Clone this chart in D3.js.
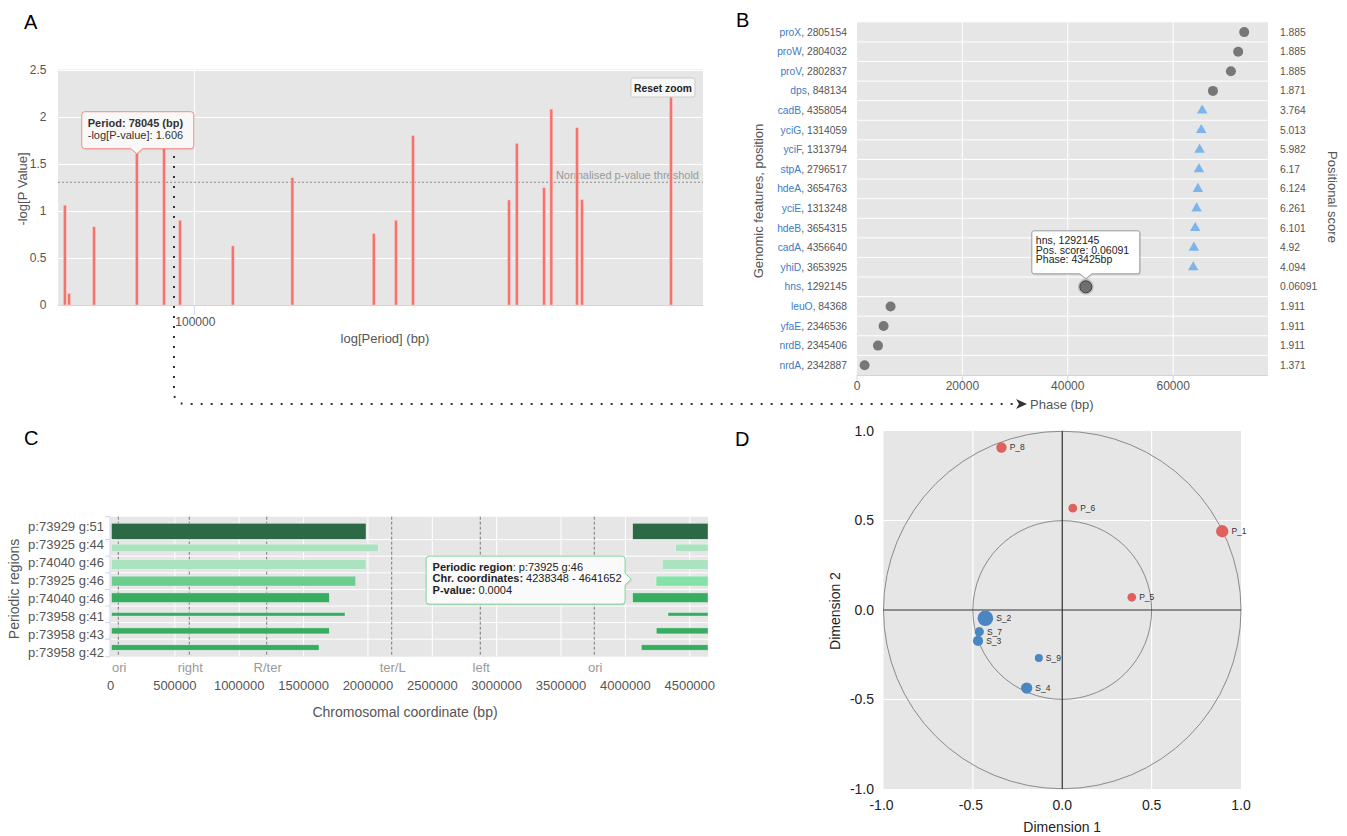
<!DOCTYPE html>
<html><head><meta charset="utf-8">
<script src="https://cdn.jsdelivr.net/npm/d3@7"></script>
<style>
body{margin:0;background:#fff;}
svg{display:block;font-family:"Liberation Sans",Arial,Helvetica,sans-serif;}
</style></head><body>
<svg id="c" width="1347" height="836"></svg>
<script>
// ---------- Panel A data ----------
const periods = [57260, 58330, 64940, 78045, 87780, 94040, 117960, 152500, 216400, 238200, 256300, 387500, 400600, 450500, 464900, 519200, 530500, 778000];
const periodNegLogP = [1.06, 0.124, 0.83, 1.606, 1.72, 0.90, 0.627, 1.352, 0.76, 0.90, 1.80, 1.115, 1.717, 1.246, 2.08, 1.883, 1.12, 2.3];
const pThreshold = 1.303;
const aYTicks = [0, 0.5, 1, 1.5, 2, 2.5];
const aXTicks = [100000];
const aHover = {period: 78045, value: 1.606};

// ---------- Panel B data ----------
const genes = ["proX","proW","proV","dps","cadB","yciG","yciF","stpA","hdeA","yciE","hdeB","cadA","yhiD","hns","leuO","yfaE","nrdB","nrdA"];
const genePositions = [2805154, 2804032, 2802837, 848134, 4358054, 1314059, 1313794, 2796517, 3654763, 1313248, 3654315, 4356640, 3653925, 1292145, 84368, 2346536, 2345406, 2342887];
const positionalScores = ["1.885","1.885","1.885","1.871","3.764","5.013","5.982","6.17","6.124","6.261","6.101","4.92","4.094","0.06091","1.911","1.911","1.911","1.371"];
const phases = [73480, 72340, 70960, 67550, 65520, 65330, 65020, 64900, 64700, 64450, 64190, 63940, 63810, 43425, 6370, 5040, 3980, 1440];
const markerKinds = ["circle","circle","circle","circle","triangle","triangle","triangle","triangle","triangle","triangle","triangle","triangle","triangle","circle","circle","circle","circle","circle"];
const bXTicks = [0, 20000, 40000, 60000];
const bHoverIndex = 13;

// ---------- Panel C data ----------
const genomeLength = 4641652;
const regionLabels = ["p:73929 g:51","p:73925 g:44","p:74040 g:46","p:73925 g:46","p:74040 g:46","p:73958 g:41","p:73958 g:43","p:73958 g:42"];
const regionStart = [4056600, 4390600, 4286500, 4238348, 4056600, 4330800, 4239900, 4123400];
const regionEnd = [1984800, 2080300, 1984800, 1904800, 1699700, 1821700, 1699700, 1619700];
const regionScore = [1.0, 0.47, 0.62, 0.62, 0.6, 0.22, 0.375, 0.34];
const regionShade = [0, 3, 3, 2, 1, 1, 1, 1];
const markerNames = ["ori","right","R/ter","ter/L","left","ori"];
const markerPositions = [60600, 612100, 1213400, 2184400, 2872600, 3758300];
const cXTicks = [0, 500000, 1000000, 1500000, 2000000, 2500000, 3000000, 3500000, 4000000, 4500000];
const cHoverIndex = 3;
const cHoverPval = "0.0004";

// ---------- Panel D data ----------
const varNames = ["P_8","P_6","P_1","P_5","S_2","S_7","S_3","S_9","S_4"];
const dim1 = [-0.34, 0.059, 0.895, 0.389, -0.43, -0.464, -0.471, -0.131, -0.199];
const dim2 = [0.908, 0.569, 0.44, 0.071, -0.046, -0.121, -0.173, -0.268, -0.436];
const varContrib = [27, 19, 38, 19, 61, 21, 26, 16, 32];
const varGroup = ["P","P","P","P","S","S","S","S","S"];
const dTicks = [-1, -0.5, 0, 0.5, 1];

// ---------- drawing ----------
const svg = d3.select("#c");
const BG = "#e6e6e6", AXC = "#ccd6eb", TXT = "#555";

[["A",24,29],["B",736,27],["C",24,445],["D",735,446]].forEach(([t,x,y]) =>
  svg.append("text").attr("x",x).attr("y",y).attr("font-size",20).attr("fill","#000").text(t));

// ===== Panel A =====
const gA = svg.append("g");
const xA = d3.scaleLog().domain([55600, 893000]).range([58, 703]);
const yA = d3.scaleLinear().domain([0, 2.5]).range([305, 69.5]);
gA.append("rect").attr("x",58).attr("y",yA(2.5)).attr("width",645).attr("height",yA(0)-yA(2.5)).attr("fill",BG);
gA.selectAll(".gy").data(aYTicks.slice(1)).join("line").attr("x1",58).attr("x2",703)
  .attr("y1",d=>Math.round(yA(d))+0.5).attr("y2",d=>Math.round(yA(d))+0.5).attr("stroke","#fff");
gA.selectAll(".gx").data(aXTicks).join("line").attr("x1",d=>xA(d)).attr("x2",d=>xA(d))
  .attr("y1",yA(2.5)).attr("y2",yA(0)).attr("stroke","#fff");
gA.append("line").attr("x1",58).attr("x2",703).attr("y1",yA(pThreshold)).attr("y2",yA(pThreshold))
  .attr("stroke","#8c8c8c").attr("stroke-dasharray","2,2");
gA.append("text").attr("x",699).attr("y",yA(pThreshold)-3).attr("text-anchor","end").attr("font-size",11)
  .attr("fill","#999").text("Normalised p-value threshold");
gA.selectAll(".bar").data(periods).join("rect")
  .attr("x",(d)=>xA(d)-1.5).attr("width",3)
  .attr("y",(d,i)=>yA(periodNegLogP[i])).attr("height",(d,i)=>yA(0)-yA(periodNegLogP[i]))
  .attr("fill","#f4736d").attr("stroke","#fcd3cf").attr("stroke-width",0.5);
gA.append("line").attr("x1",58).attr("x2",703).attr("y1",305.5).attr("y2",305.5).attr("stroke",AXC);
aXTicks.forEach(t=>{
  gA.append("line").attr("x1",xA(t)).attr("x2",xA(t)).attr("y1",305).attr("y2",315).attr("stroke",AXC);
  gA.append("text").attr("x",xA(t)+1).attr("y",326).attr("text-anchor","middle").attr("font-size",12).attr("fill",TXT).text(t);
});
gA.selectAll(".yl").data(aYTicks).join("text").attr("x",46.5).attr("y",d=>yA(d)).attr("dy","0.35em")
  .attr("text-anchor","end").attr("font-size",12).attr("fill",TXT).text(d=>d);
gA.append("text").attr("transform","translate(22,189) rotate(-90)").attr("text-anchor","middle").attr("dy","0.35em")
  .attr("font-size",13).attr("fill",TXT).text("-log[P Value]");
gA.append("text").attr("x",385).attr("y",343).attr("text-anchor","middle").attr("font-size",13).attr("fill",TXT).text("log[Period] (bp)");

// Reset zoom button
gA.append("rect").attr("x",631).attr("y",78).attr("width",64).attr("height",19).attr("rx",2)
  .attr("fill","#f7f7f7").attr("stroke","#cccccc");
gA.append("text").attr("x",663).attr("y",91.5).attr("text-anchor","middle").attr("font-size",10.3)
  .attr("font-weight","bold").attr("fill","#222").text("Reset zoom");

// dotted connector A -> B
const tipAx = xA(aHover.period), tipAy = yA(aHover.value);
svg.append("path").attr("d","M174,156 L174,392 Q174,404 186,404 L1013,404")
  .attr("fill","none").attr("stroke","#333").attr("stroke-width",2).attr("stroke-dasharray","2,8");
svg.append("path").attr("d","M1016,399 L1027,404 L1016,409 L1019,404 Z").attr("fill","#333");

// tooltip A
function calloutDown(x0,y0,x1,y1,tx,ty,r){
  return `M${x0+r},${y0} H${x1-r} Q${x1},${y0} ${x1},${y0+r} V${y1-r} Q${x1},${y1} ${x1-r},${y1} H${tx+6} L${tx},${ty} L${tx-6},${y1} H${x0+r} Q${x0},${y1} ${x0},${y1-r} V${y0+r} Q${x0},${y0} ${x0+r},${y0} Z`;
}
function calloutRight(x0,y0,x1,y1,tx,ty,r){
  return `M${x0+r},${y0} H${x1-r} Q${x1},${y0} ${x1},${y0+r} V${ty-6} L${tx},${ty} L${x1},${ty+6} V${y1-r} Q${x1},${y1} ${x1-r},${y1} H${x0+r} Q${x0},${y1} ${x0},${y1-r} V${y0+r} Q${x0},${y0} ${x0+r},${y0} Z`;
}
const tA = svg.append("g");
tA.append("path").attr("d",calloutDown(tipAx-55,tipAy-42,tipAx+57,tipAy-5,tipAx,tipAy,3))
  .attr("fill","rgba(0,0,0,0.06)").attr("transform","translate(1,1.5)");
tA.append("path").attr("d",calloutDown(tipAx-55,tipAy-42,tipAx+57,tipAy-5,tipAx,tipAy,3))
  .attr("fill","#f8f8f8").attr("stroke","#f28b84");
tA.append("text").attr("x",tipAx-49).attr("y",tipAy-27).attr("font-size",11).attr("font-weight","bold").attr("fill","#333")
  .text(`Period: ${aHover.period} (bp)`);
tA.append("text").attr("x",tipAx-49).attr("y",tipAy-14.5).attr("font-size",11).attr("fill","#333")
  .text(`-log[P-value]: ${aHover.value}`);

// ===== Panel B =====
const gB = svg.append("g");
const xB = d3.scaleLinear().domain([0, 78000]).range([857, 1268]);
const yB = d3.scaleBand().domain(d3.range(genes.length)).range([22.3, 375]);
gB.append("rect").attr("x",857).attr("y",22.3).attr("width",411).attr("height",375-22.3).attr("fill",BG);
gB.selectAll(".hb").data(d3.range(1,genes.length)).join("line").attr("x1",857).attr("x2",1268)
  .attr("y1",d=>yB(d)).attr("y2",d=>yB(d)).attr("stroke","#fff");
gB.selectAll(".vb").data(bXTicks.slice(1)).join("line").attr("x1",d=>xB(d)).attr("x2",d=>xB(d))
  .attr("y1",22.3).attr("y2",375).attr("stroke","#fff");
gB.append("line").attr("x1",857).attr("x2",1268).attr("y1",375.5).attr("y2",375.5).attr("stroke",AXC);
bXTicks.forEach(t=>{
  gB.append("line").attr("x1",xB(t)).attr("x2",xB(t)).attr("y1",375).attr("y2",382).attr("stroke",AXC);
  gB.append("text").attr("x",xB(t)).attr("y",390).attr("text-anchor","middle").attr("font-size",12).attr("fill",TXT).text(t);
});
const lblB = gB.selectAll(".lb").data(genes).join("text").attr("x",847).attr("y",(d,i)=>yB(i)+yB.bandwidth()/2)
  .attr("dy","0.35em").attr("text-anchor","end").attr("font-size",10.3);
lblB.append("tspan").attr("fill","#3d7cc7").text(d=>d);
lblB.append("tspan").attr("fill",TXT).text((d,i)=>", "+genePositions[i]);
gB.selectAll(".rb").data(positionalScores).join("text").attr("x",1280).attr("y",(d,i)=>yB(i)+yB.bandwidth()/2)
  .attr("dy","0.35em").attr("font-size",10.3).attr("fill",TXT).text(d=>d);
gB.append("text").attr("transform","translate(758,201) rotate(-90)").attr("text-anchor","middle").attr("dy","0.35em")
  .attr("font-size",13).attr("fill",TXT).text("Genomic features, position");
gB.append("text").attr("transform","translate(1333,197) rotate(90)").attr("text-anchor","middle").attr("dy","0.35em")
  .attr("font-size",13).attr("fill",TXT).text("Positional score");
gB.append("text").attr("x",1030).attr("y",409).attr("font-size",13).attr("fill",TXT).text("Phase (bp)");
const tri = d3.symbol().type(d3.symbolTriangle).size(48);
phases.forEach((p,i)=>{
  const cx = xB(p), cy = yB(i)+yB.bandwidth()/2;
  if (markerKinds[i]==="triangle") {
    gB.append("path").attr("d",tri).attr("transform",`translate(${cx},${cy})`).attr("fill","#7cb5ec");
  } else if (i===bHoverIndex) {
    gB.append("circle").attr("cx",cx).attr("cy",cy).attr("r",8).attr("fill","rgba(110,110,110,0.3)");
    gB.append("circle").attr("cx",cx).attr("cy",cy).attr("r",6).attr("fill","#6f6f6f").attr("stroke","#3f3f3f").attr("stroke-width",1);
  } else {
    gB.append("circle").attr("cx",cx).attr("cy",cy).attr("r",5).attr("fill","#777");
  }
});
// tooltip B
{
  const tx = xB(phases[bHoverIndex]), ty = yB(bHoverIndex)+yB.bandwidth()/2 - 8;
  const g = svg.append("g");
  g.append("path").attr("d",calloutDown(tx-54,ty-48,tx+54,ty-5,tx,ty,2)).attr("fill","rgba(0,0,0,0.08)").attr("transform","translate(1,1.5)");
  g.append("path").attr("d",calloutDown(tx-54,ty-48,tx+54,ty-5,tx,ty,2)).attr("fill","#fff").attr("stroke","#9a9a9a");
  const lines = [`${genes[bHoverIndex]}, ${genePositions[bHoverIndex]}`, `Pos. score: ${positionalScores[bHoverIndex]}`, `Phase: ${phases[bHoverIndex]}bp`];
  lines.forEach((t,k)=> g.append("text").attr("x",tx-50).attr("y",ty-35+k*9.7).attr("font-size",10.5).attr("fill","#222").text(t));
}

// ===== Panel C =====
const gC = svg.append("g");
const cTop = 516.7, cBot = 656.7;
const xC = d3.scaleLinear().domain([0, genomeLength]).range([110.5, 708]);
const yC = d3.scaleBand().domain(d3.range(regionLabels.length)).range([523, 655.8]);
const yCl = d3.scalePoint().domain(d3.range(regionLabels.length)).range([526, 652]);
const thick = d3.scaleLinear().domain([0,1]).range([0,16]);
const shades = ["#2b6a45","#38ad61","#6dcd8f","#abe3c1"];
gC.append("rect").attr("x",110.5).attr("y",cTop).attr("width",597.5).attr("height",cBot-cTop).attr("fill",BG);
gC.selectAll(".vc").data(cXTicks.slice(1)).join("line").attr("x1",d=>xC(d)).attr("x2",d=>xC(d))
  .attr("y1",cTop).attr("y2",cBot).attr("stroke","#fff");
gC.selectAll(".hc").data(d3.range(1,regionLabels.length)).join("line").attr("x1",110.5).attr("x2",708)
  .attr("y1",d=>yC(d)).attr("y2",d=>yC(d)).attr("stroke","#fff");
gC.selectAll(".mk").data(markerPositions).join("line").attr("x1",d=>xC(d)).attr("x2",d=>xC(d))
  .attr("y1",cTop).attr("y2",cBot).attr("stroke","#7a7a7a").attr("stroke-dasharray","3,2");
regionLabels.forEach((r,i)=>{
  const h = thick(regionScore[i]), cy = yC(i)+yC.bandwidth()/2;
  const fill = shades[regionShade[i]];
  gC.append("rect").attr("x",xC(0)+1).attr("width",xC(regionEnd[i])-xC(0)-1).attr("y",cy-h/2).attr("height",h)
    .attr("fill",fill).attr("stroke","rgba(255,255,255,0.6)").attr("stroke-width",0.6);
  gC.append("rect").attr("x",xC(regionStart[i])).attr("width",xC(genomeLength)-xC(regionStart[i])).attr("y",cy-h/2).attr("height",h)
    .attr("fill", i===cHoverIndex ? "#84e2a6" : fill).attr("stroke","rgba(255,255,255,0.6)").attr("stroke-width",0.6);
});
gC.append("line").attr("x1",110).attr("x2",110).attr("y1",cTop).attr("y2",cBot).attr("stroke",AXC);
gC.selectAll(".tc").data(d3.range(0,regionLabels.length+1)).join("line").attr("x1",105).attr("x2",110)
  .attr("y1",d=> d===0 ? cTop : (d===regionLabels.length ? cBot : yC(d))).attr("y2",d=> d===0 ? cTop : (d===regionLabels.length ? cBot : yC(d))).attr("stroke",AXC);
gC.selectAll(".lc").data(regionLabels).join("text").attr("x",104).attr("y",(d,i)=>yCl(i)).attr("dy","0.35em")
  .attr("text-anchor","end").attr("font-size",13).attr("fill",TXT).text(d=>d);
gC.selectAll(".mn").data(markerNames).join("text").attr("x",(d,i)=>xC(markerPositions[i])+1).attr("y",672)
  .attr("text-anchor","middle").attr("font-size",13).attr("fill","#999").text(d=>d);
gC.selectAll(".xc").data(cXTicks).join("text").attr("x",d=>xC(d)).attr("y",689.5)
  .attr("text-anchor","middle").attr("font-size",13).attr("fill",TXT).text(d=>d);
gC.append("text").attr("transform","translate(14,589) rotate(-90)").attr("text-anchor","middle").attr("dy","0.35em")
  .attr("font-size",14).attr("fill",TXT).text("Periodic regions");
gC.append("text").attr("x",405).attr("y",717).attr("text-anchor","middle").attr("font-size",14).attr("fill",TXT).text("Chromosomal coordinate (bp)");
// tooltip C
{
  const tx = xC(regionStart[cHoverIndex]) - 25, ty = yC(cHoverIndex)+yC.bandwidth()/2 - 2;
  const g = svg.append("g");
  g.append("path").attr("d",calloutRight(tx-205,ty-23,tx-6,ty+25,tx,ty,3)).attr("fill","rgba(0,0,0,0.07)").attr("transform","translate(1,1.5)");
  g.append("path").attr("d",calloutRight(tx-205,ty-23,tx-6,ty+25,tx,ty,3)).attr("fill","#fafafa").attr("stroke","#7fd39c");
  const rows = [["Periodic region",": "+regionLabels[cHoverIndex]],["Chr. coordinates:"," "+regionStart[cHoverIndex]+" - "+genomeLength],["P-value:"," "+cHoverPval]];
  rows.forEach((r,k)=>{
    const t = g.append("text").attr("x",tx-198.5).attr("y",ty-8+k*11.3).attr("font-size",11).attr("fill","#222");
    t.append("tspan").attr("font-weight","bold").text(r[0]);
    t.append("tspan").text(r[1]);
  });
}

// ===== Panel D =====
const gD = svg.append("g");
const xD = d3.scaleLinear().domain([-1,1]).range([883.5,1241]);
const yD = d3.scaleLinear().domain([-1,1]).range([789,431]);
const rD = d3.scaleSqrt().domain([0,61]).range([0,7.8]);
gD.append("rect").attr("x",xD(-1)).attr("y",yD(1)).attr("width",xD(1)-xD(-1)).attr("height",yD(-1)-yD(1)).attr("fill",BG);
[-0.5,0.5].forEach(v=>{
  gD.append("line").attr("x1",xD(v)).attr("x2",xD(v)).attr("y1",yD(1)).attr("y2",yD(-1)).attr("stroke","#fff").attr("stroke-width",1.2);
  gD.append("line").attr("y1",yD(v)).attr("y2",yD(v)).attr("x1",xD(-1)).attr("x2",xD(1)).attr("stroke","#fff").attr("stroke-width",1.2);
});
[1,0.5].forEach(r=>gD.append("circle").attr("cx",xD(0)).attr("cy",yD(0)).attr("r",xD(r)-xD(0))
  .attr("fill","none").attr("stroke","#8a8a8a").attr("stroke-width",1));
gD.append("line").attr("x1",xD(0)).attr("x2",xD(0)).attr("y1",yD(1)).attr("y2",yD(-1)).attr("stroke","#333").attr("stroke-width",1.2);
gD.append("line").attr("y1",yD(0)).attr("y2",yD(0)).attr("x1",xD(-1)).attr("x2",xD(1)).attr("stroke","#333").attr("stroke-width",1.2);
const fmt = v => d3.format(".1f")(v).replace("\u2212","-");
gD.selectAll(".xd").data(dTicks).join("text").attr("x",d=>xD(d)+(d<0?-2:0)).attr("y",810).attr("text-anchor","middle")
  .attr("font-size",14).attr("fill","#222").text(d=>fmt(d));
gD.selectAll(".yd").data(dTicks).join("text").attr("x",874).attr("y",d=>yD(d)).attr("dy","0.35em").attr("text-anchor","end")
  .attr("font-size",14).attr("fill","#222").text(d=>fmt(d));
gD.append("text").attr("x",xD(0)).attr("y",832).attr("text-anchor","middle").attr("font-size",14).attr("fill","#222").text("Dimension 1");
gD.append("text").attr("transform","translate(835,611) rotate(-90)").attr("text-anchor","middle").attr("dy","0.35em")
  .attr("font-size",14).attr("fill","#222").text("Dimension 2");
varNames.forEach((n,i)=>{
  const cx = xD(dim1[i]), cy = yD(dim2[i]), r = rD(varContrib[i]);
  gD.append("circle").attr("cx",cx).attr("cy",cy).attr("r",r).attr("fill",varGroup[i]==="P"?"#e0605e":"#4a86c1");
  gD.append("text").attr("x",cx+r+3).attr("y",cy).attr("dy","0.35em").attr("font-size",8.5).attr("fill","#333").text(n);
});
</script>
</body></html>
